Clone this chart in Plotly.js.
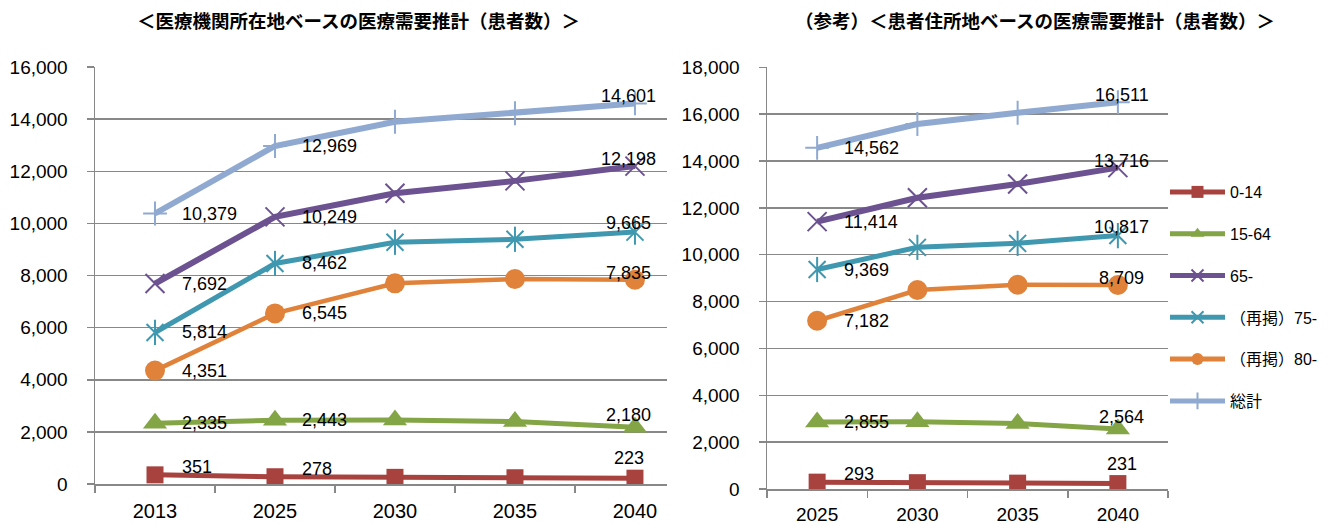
<!DOCTYPE html>
<html>
<head>
<meta charset="utf-8">
<script src="https://cdn.plot.ly/plotly-3.0.1.min.js"></script>
<style>html,body{margin:0;padding:0;background:#fff;}#chart{width:1329px;height:524px;}</style>
</head>
<body>
<div id="chart"></div>
<script>
// ---- data ----
const leftYears = ['2013', '2025', '2030', '2035', '2040'];
const rightYears = ['2025', '2030', '2035', '2040'];
const seriesNames = ['0-14', '15-64', '65-', '（再掲）75-', '（再掲）80-', '総計'];

const left_0_14   = [351, 278, 255, 240, 223];
const left_15_64  = [2335, 2443, 2460, 2400, 2180];
const left_65     = [7692, 10249, 11155, 11630, 12198];
const left_75     = [5814, 8462, 9275, 9390, 9665];
const left_80     = [4351, 6545, 7700, 7865, 7835];
const left_total  = [10379, 12969, 13900, 14225, 14601];

const right_0_14  = [293, 270, 250, 231];
const right_15_64 = [2855, 2870, 2800, 2564];
const right_65    = [11414, 12430, 13020, 13716];
const right_75    = [9369, 10315, 10485, 10817];
const right_80    = [7182, 8495, 8720, 8709];
const right_total = [14562, 15580, 16060, 16511];

const leftTitle = '＜医療機関所在地ベースの医療需要推計（患者数）＞';
const rightTitle = '（参考）＜患者住所地ベースの医療需要推計（患者数）＞';

const leftValues = [left_0_14, left_15_64, left_65, left_75, left_80, left_total];
const rightValues = [right_0_14, right_15_64, right_65, right_75, right_80, right_total];

// which points carry labels
const leftSideLabels = [0, 1], leftTopLabels = [4];
const rightSideLabels = [0], rightTopLabels = [3];

// ---- styles ----
const styles = [
  {color: '#A7423F', symbol: 'square', size: 17, lw: 5, mlw: 0, midShift: 8, topShift: 20},
  {color: '#83A546', symbol: 'triangle-up', size: 21, lw: 5, mlw: 0, midShift: 0, topShift: 12},
  {color: '#6C5290', symbol: 'x-thin-open', size: 19, lw: 6, mlw: 2, midShift: 0, topShift: 7},
  {color: '#3F98AF', symbol: 'x-thin-open', size: 17, lw: 5, mlw: 2, midShift: 0, topShift: 9, extra: 'line-ns-open'},
  {color: '#E0823A', symbol: 'circle', size: 20, lw: 4.5, mlw: 0, midShift: 0, topShift: 7},
  {color: '#8FA9D1', symbol: 'cross-thin-open', size: 17, lw: 6, mlw: 2, midShift: 0, topShift: 7}
];

const fontLatin = 'Liberation Sans, Arial, Noto Sans CJK JP, sans-serif';
const fontCJK = 'Noto Sans CJK JP, Liberation Sans, sans-serif';

const traces = [];
const annotations = [];

function fmt(v) { return v.toLocaleString('en-US'); }

function addChart(years, valuesList, xa, ya, showLegend, sideIdx, topIdx, topXShift) {
  valuesList.forEach((vals, i) => {
    const s = styles[i];
    traces.push({
      type: 'scatter', mode: 'lines+markers',
      x: years, y: vals, xaxis: xa, yaxis: ya,
      name: seriesNames[i], legendgroup: 'g' + i, showlegend: showLegend,
      line: {color: s.color, width: s.lw},
      marker: {symbol: s.symbol, size: s.size, color: s.color,
               line: {color: s.color, width: s.mlw}},
      hoverinfo: 'skip'
    });
    if (s.extra) {
      traces.push({
        type: 'scatter', mode: 'markers',
        x: years, y: vals, xaxis: xa, yaxis: ya,
        name: seriesNames[i], legendgroup: 'g' + i, showlegend: false,
        marker: {symbol: s.extra, size: s.size + 1, color: s.color,
                 line: {color: s.color, width: s.mlw}},
        hoverinfo: 'skip'
      });
    }
    // category axis: annotation x given as the category index
    sideIdx.forEach(k => {
      annotations.push({
        xref: xa, yref: ya, x: k, y: vals[k], text: fmt(vals[k]),
        showarrow: false, xanchor: 'left', yanchor: 'middle',
        xshift: 25, yshift: s.midShift,
        font: {family: fontLatin, size: 18, color: '#000'}
      });
    });
    topIdx.forEach(k => {
      annotations.push({
        xref: xa, yref: ya, x: k, y: vals[k], text: fmt(vals[k]),
        showarrow: false, xanchor: 'center', yanchor: 'middle',
        xshift: topXShift, yshift: s.topShift,
        font: {family: fontLatin, size: 18, color: '#000'}
      });
    });
  });
}

addChart(leftYears, leftValues, 'x', 'y', false, leftSideLabels, leftTopLabels, -6);
addChart(rightYears, rightValues, 'x2', 'y2', true, rightSideLabels, rightTopLabels, 4);

annotations.push({
  xref: 'paper', yref: 'paper', x: 359 / 1329, y: 1 - 20 / 524, text: leftTitle,
  showarrow: false, xanchor: 'center', yanchor: 'middle',
  font: {family: fontCJK, size: 18.5, color: '#000', weight: 'bold'}
});
annotations.push({
  xref: 'paper', yref: 'paper', x: 1035 / 1329, y: 1 - 20 / 524, text: rightTitle,
  showarrow: false, xanchor: 'center', yanchor: 'middle',
  font: {family: fontCJK, size: 18.5, color: '#000', weight: 'bold'}
});

const W = 1329, H = 524;
const gridColor = '#888888';

function xAxis(domain, range, fontSize, standoff) {
  return {
    type: 'category', domain: domain, range: range, fixedrange: true,
    showgrid: false, zeroline: false,
    showline: true, linecolor: gridColor, linewidth: 1.5,
    ticks: 'outside', tickson: 'boundaries', ticklen: 7, tickcolor: gridColor, tickwidth: 1.5,
    tickfont: {family: fontLatin, size: fontSize, color: '#000'},
    ticklabelstandoff: standoff
  };
}
function yAxis(domain, maxv, anchor) {
  return {
    domain: domain, range: [0, maxv], dtick: 2000, tickformat: ',d', fixedrange: true,
    anchor: anchor,
    showgrid: true, gridcolor: gridColor, gridwidth: 1.5, zeroline: false,
    showline: true, linecolor: gridColor, linewidth: 1.5,
    ticks: 'outside', ticklen: 7, tickcolor: gridColor, tickwidth: 1.5,
    tickfont: {family: fontLatin, size: 19, color: '#000'},
    ticklabelstandoff: 15
  };
}

const layout = {
  width: W, height: H,
  margin: {l: 0, r: 0, t: 0, b: 0},
  paper_bgcolor: '#fff', plot_bgcolor: '#fff',
  showlegend: true,
  xaxis: Object.assign(xAxis([95 / W, 667 / W], [-0.5, 4.267], 20, 8), {anchor: 'y'}),
  yaxis: yAxis([(H - 484) / H, (H - 67) / H], 16000, 'x'),
  xaxis2: Object.assign(xAxis([767 / W, 1168 / W], [-0.5, 3.5], 19, 8), {anchor: 'y2'}),
  yaxis2: yAxis([(H - 489) / H, (H - 67.3) / H], 18000, 'x2'),
  legend: {
    x: 1165 / W, y: 1 - 175 / H, xanchor: 'left', yanchor: 'top',
    bgcolor: 'rgba(0,0,0,0)', borderwidth: 0,
    font: {family: fontLatin, size: 16, color: '#000'},
    itemwidth: 55, tracegroupgap: 18, traceorder: 'grouped', itemsizing: 'constant'
  },
  annotations: annotations
};

Plotly.newPlot('chart', traces, layout, {staticPlot: true, displayModeBar: false});
</script>
</body>
</html>
